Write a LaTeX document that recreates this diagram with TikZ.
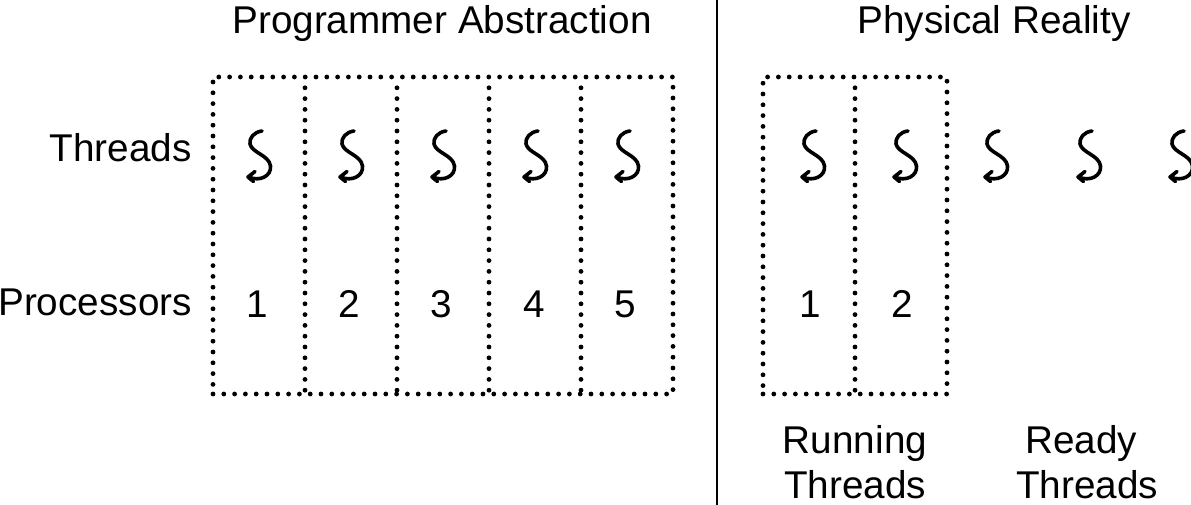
\documentclass[tikz,border=0pt]{standalone}
\usepackage{fontspec}
\setmainfont{Liberation Sans}
\usetikzlibrary{arrows.meta}
\tikzset{
  x=1pt,y=-1pt,
  dotline/.style={draw=black,line width=4.8pt,line cap=round,dash pattern=on 0pt off 10.8pt},
  outerbox/.style={dotline,minimum height=317pt,inner sep=0pt,outer sep=0pt,anchor=north west},
  txt/.style={font=\fontsize{38.7}{44.5}\selectfont,inner sep=0pt,align=center},
  squiggle/.pic={
    \draw[line width=3.6pt,line cap=round,line join=round]
      (0,0) .. controls (-8,1) and (-13,7) .. (-12,13)
      .. controls (-10,22) and (7,24) .. (8.5,35)
      .. controls (9.5,45) and (-2,51) .. (-13.5,46)
      (-7,40.5) -- (-14,46) -- (-8.5,50.5);
  }
}
\begin{document}
\begin{tikzpicture}
\useasboundingbox (0,0) rectangle (1191,505);
\node[outerbox,minimum width=460pt] (abs) at (213,77) {};
\node[outerbox,minimum width=184pt] (phy) at (763,77) {};
\foreach \n/\xx in {a/305,b/397,c/489,d/581,e/855}{
  \coordinate (\n t) at (\xx,87.8);
  \coordinate (\n b) at (\xx,394);
  \draw[dotline] (\n t) -- (\n b);
}
\foreach \xx in {262,354,446,538,630,816,908,999,1092,1184}
  \pic at (\xx,131) {squiggle};
\foreach \n/\t/\xx in {p1/1/257,p2/2/349,p3/3/441,p4/4/534,p5/5/625,q1/1/810,q2/2/902}
  \node[txt] (\n) at (\xx,304) {\t};
\node[txt] (progabs) at (442,23) {Programmer Abstraction};
\node[txt] (physreal) at (994,23) {Physical Reality};
\node[txt] (threads) at (120.5,148) {Threads};
\node[txt] (procs) at (95,302) {Processors};
\node[txt] (running) at (855,462) {Running\\Threads};
\node[txt] (ready) at (1087,462) {Ready\kern12pt\\Threads};
\coordinate (divtop) at (717,0);
\coordinate (divbot) at (717,505);
\draw[line width=2.4pt] (divtop) -- (divbot);
\end{tikzpicture}
\end{document}
